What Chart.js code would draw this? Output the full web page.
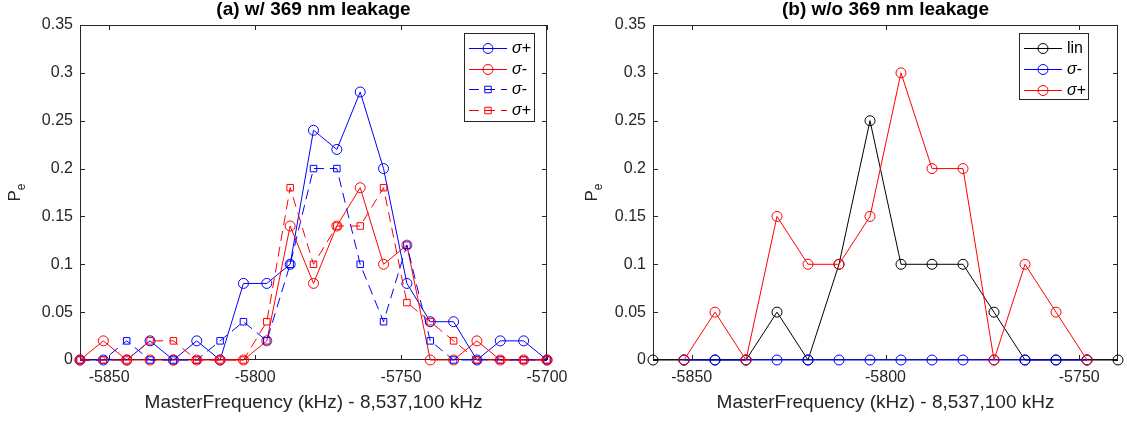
<!DOCTYPE html>
<html>
<head>
<meta charset="utf-8">
<script src="https://cdn.jsdelivr.net/npm/chart.js@4.4.1/dist/chart.umd.min.js"></script>
<style>
  html, body { margin: 0; padding: 0; background: #fff; }
  #wrap { position: relative; width: 1127px; height: 423px; overflow: hidden; }
  canvas { position: absolute; top: 0; }
  #chartA { left: 0; }
  #chartB { left: 563px; }
</style>
</head>
<body>
<div id="wrap">
  <canvas id="chartA" width="600" height="423"></canvas>
  <canvas id="chartB" width="564" height="423"></canvas>
</div>
<script>
// (a) w/ 369 nm leakage
const freqA = [-5860, -5852, -5844, -5836, -5828, -5820, -5812, -5804, -5796, -5788, -5780,
  -5772, -5764, -5756, -5748, -5740, -5732, -5724, -5716, -5708, -5700];
const sigPlusA = [0, 0, 0, 0.02, 0, 0.02, 0, 0.08, 0.08, 0.1, 0.24, 0.22, 0.28, 0.2, 0.08, 0.04, 0.04, 0, 0.02, 0.02, 0];
const sigMinusA = [0, 0.02, 0, 0, 0, 0, 0, 0, 0.02, 0.14, 0.08, 0.14, 0.18, 0.1, 0.12, 0, 0, 0.02, 0, 0, 0];
const sigMinusDashA = [0, 0, 0.02, 0, 0, 0, 0.02, 0.04, 0.02, 0.1, 0.2, 0.2, 0.1, 0.04, 0.12, 0.02, 0, 0, 0, 0, 0];
const sigPlusDashA = [0, 0, 0, 0.02, 0.02, 0, 0, 0, 0.04, 0.18, 0.1, 0.14, 0.14, 0.18, 0.06, 0.04, 0.02, 0, 0, 0, 0];
const xTicksA = [-5850, -5800, -5750, -5700];

// (b) w/o 369 nm leakage
const freqB = [-5860, -5852, -5844, -5836, -5828, -5820, -5812, -5804, -5796, -5788, -5780,
  -5772, -5764, -5756, -5748, -5740];
const linB = [0, 0, 0, 0, 0.05, 0, 0.1, 0.25, 0.1, 0.1, 0.1, 0.05, 0, 0, 0, 0];
const sigMinusB = [null, 0, 0, 0, 0, 0, 0, 0, 0, 0, 0, 0, 0, 0, 0, null];
const sigPlusB = [null, 0, 0.05, 0, 0.15, 0.1, 0.1, 0.15, 0.3, 0.2, 0.2, 0, 0.1, 0.05, 0, null];
const xTicksB = [-5850, -5800, -5750];

const yTicks = [0, 0.05, 0.1, 0.15, 0.2, 0.25, 0.3, 0.35];
const yTickLabels = ["0", "0.05", "0.1", "0.15", "0.2", "0.25", "0.3", "0.35"];

const FONT = "'Liberation Sans', Arial, Helvetica, sans-serif";
const INK = "#262626";

function series(label, xs, ys, color, shape, dashed) {
  const r = shape === "rect" ? 4.6 : 5;
  return {
    label: label,
    data: xs.map((x, i) => ({ x: x, y: ys[i] })).filter(p => p.y !== null),
    borderColor: color,
    backgroundColor: color,
    borderWidth: 1,
    borderDash: dashed ? [10, 6] : [],
    pointStyle: shape,
    pointRadius: r,
    pointHoverRadius: r,
    pointBorderColor: color,
    pointBackgroundColor: "rgba(0,0,0,0)",
    pointBorderWidth: 1,
    tension: 0,
    clip: false
  };
}

// matlab draws later lines on top
function stack(list) {
  list.forEach((ds, i) => { ds.order = list.length - i; });
  return list;
}

// box + inward ticks on all four sides
const matlabBox = {
  id: "matlabBox",
  beforeDatasetsDraw(chart) {
    const { ctx, chartArea: a, scales } = chart;
    ctx.save();
    ctx.strokeStyle = INK;
    ctx.lineWidth = 1;
    ctx.strokeRect(a.left + 0.5, a.top + 0.5, a.right - a.left - 1, a.bottom - a.top - 1);
    ctx.beginPath();
    scales.x.ticks.forEach(t => {
      const px = Math.round(scales.x.getPixelForValue(t.value)) + 0.5;
      ctx.moveTo(px, a.bottom); ctx.lineTo(px, a.bottom - 5);
      ctx.moveTo(px, a.top); ctx.lineTo(px, a.top + 5);
    });
    scales.y.ticks.forEach(t => {
      const py = Math.round(scales.y.getPixelForValue(t.value)) + 0.5;
      ctx.moveTo(a.left, py); ctx.lineTo(a.left + 5, py);
      ctx.moveTo(a.right, py); ctx.lineTo(a.right - 5, py);
    });
    ctx.stroke();
    ctx.restore();
  }
};

// rotated "P" with subscript "e"
const yLabel = {
  id: "yLabel",
  afterDraw(chart, args, o) {
    const { ctx, chartArea: a } = chart;
    ctx.save();
    ctx.translate(o.x, (a.top + a.bottom) / 2);
    ctx.rotate(-Math.PI / 2);
    ctx.fillStyle = INK;
    ctx.textBaseline = "alphabetic";
    ctx.font = "17px " + FONT;
    const wP = ctx.measureText("P").width;
    ctx.font = "12px " + FONT;
    const wE = ctx.measureText("e").width;
    const x0 = -(wP + wE) / 2;
    ctx.font = "17px " + FONT;
    ctx.fillText("P", x0, 0);
    ctx.font = "12px " + FONT;
    ctx.fillText("e", x0 + wP, 5);
    ctx.restore();
  }
};

// boxed legend, line sample with marker in the middle
const legendBox = {
  id: "legendBox",
  afterDraw(chart, args, o) {
    const ctx = chart.ctx;
    ctx.save();
    ctx.fillStyle = "#fff";
    ctx.fillRect(o.x, o.y, o.w, o.h);
    ctx.strokeStyle = INK;
    ctx.lineWidth = 1;
    ctx.strokeRect(o.x + 0.5, o.y + 0.5, o.w, o.h);
    chart.data.datasets.forEach((ds, i) => {
      const y = Math.round(o.y + o.first + i * o.step) + 0.5;
      const x0 = o.x + 5, x1 = o.x + 43, xm = (x0 + x1) / 2;
      ctx.strokeStyle = ds.borderColor;
      ctx.lineWidth = 1;
      ctx.setLineDash(ds.borderDash);
      ctx.beginPath(); ctx.moveTo(x0, y); ctx.lineTo(x1, y); ctx.stroke();
      ctx.setLineDash([]);
      ctx.fillStyle = "rgba(0,0,0,0)";
      Chart.helpers.drawPoint(ctx, { pointStyle: ds.pointStyle, radius: ds.pointRadius, borderWidth: 1, rotation: 0 }, xm, y);
      ctx.fillStyle = "#000";
      ctx.textBaseline = "middle";
      let tx = o.x + 48;
      if (ds.label.startsWith("σ")) {
        ctx.font = "italic 16px " + FONT;
        ctx.fillText("σ", tx, y);
        tx += ctx.measureText("σ").width;
        ctx.font = "16px " + FONT;
        ctx.fillText(ds.label.slice(1), tx, y);
      } else {
        ctx.font = "16px " + FONT;
        ctx.fillText(ds.label, tx, y);
      }
    });
    ctx.restore();
  }
};

function makeOptions(title, xMin, xMax, xTicks, yWidth, padRight, yLabelX, legend) {
  return {
    responsive: false,
    animation: false,
    layout: { padding: { left: 0, right: padRight, top: 0, bottom: 0 } },
    scales: {
      x: {
        type: "linear",
        min: xMin,
        max: xMax,
        afterBuildTicks: s => { s.ticks = xTicks.map(v => ({ value: v })); },
        afterFit: s => { s.height = 63; s.paddingLeft = 0; s.paddingRight = 0; },
        grid: { display: false, drawTicks: false },
        border: { display: false },
        ticks: {
          autoSkip: false, maxRotation: 0, padding: 8, color: INK,
          font: { family: FONT, size: 16 },
          callback: v => String(v)
        },
        title: {
          display: true,
          text: "MasterFrequency (kHz) - 8,537,100 kHz",
          color: INK,
          font: { family: FONT, size: 19 },
          padding: { top: 0, bottom: 9 }
        }
      },
      y: {
        type: "linear",
        min: 0,
        max: 0.35,
        afterBuildTicks: s => { s.ticks = yTicks.map(v => ({ value: v })); },
        afterFit: s => { s.width = yWidth; s.paddingTop = 0; s.paddingBottom = 0; },
        grid: { display: false, drawTicks: false },
        border: { display: false },
        ticks: {
          padding: 7, color: INK,
          font: { family: FONT, size: 16 },
          callback: (v, i) => yTickLabels[i]
        }
      }
    },
    plugins: {
      legend: { display: false },
      tooltip: { enabled: false },
      title: {
        display: true,
        text: title,
        fullSize: false,
        color: "#000",
        font: { family: FONT, size: 19, weight: "bold", lineHeight: 1 },
        padding: { top: 0, bottom: 6 }
      },
      yLabel: { x: yLabelX },
      legendBox: legend
    }
  };
}

new Chart(document.getElementById("chartA"), {
  type: "line",
  data: {
    datasets: stack([
      series("σ+", freqA, sigPlusA, "#0000ff", "circle", false),
      series("σ-", freqA, sigMinusA, "#ff0000", "circle", false),
      series("σ-", freqA, sigMinusDashA, "#0000ff", "rect", true),
      series("σ+", freqA, sigPlusDashA, "#ff0000", "rect", true)
    ])
  },
  options: makeOptions("(a) w/ 369 nm leakage", -5860, -5700, xTicksA, 80, 53, 20,
    { x: 464, y: 33, w: 70, h: 88, first: 15, step: 20.5 }),
  plugins: [matlabBox, yLabel, legendBox]
});

new Chart(document.getElementById("chartB"), {
  type: "line",
  data: {
    datasets: stack([
      series("lin", freqB, linB, "#000000", "circle", false),
      series("σ-", freqB, sigMinusB, "#0000ff", "circle", false),
      series("σ+", freqB, sigPlusB, "#ff0000", "circle", false)
    ])
  },
  options: makeOptions("(b) w/o 369 nm leakage", -5860, -5740, xTicksB, 90, 9, 34,
    { x: 456, y: 33, w: 69, h: 66, first: 15, step: 21 }),
  plugins: [matlabBox, yLabel, legendBox]
});
</script>
</body>
</html>
